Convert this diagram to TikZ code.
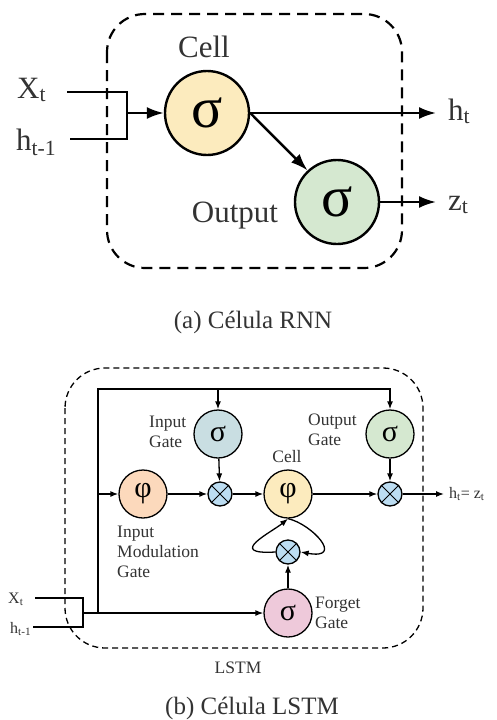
\documentclass[tikz,border=0pt]{standalone}
\usepackage{fontspec}
\setmainfont{Liberation Serif}
\usepackage{xcolor}
\usetikzlibrary{arrows.meta}
\definecolor{cellyellow}{HTML}{FCEBBE}
\definecolor{outgreen}{HTML}{D5E8D0}
\definecolor{gateblue}{HTML}{C9DEE2}
\definecolor{modorange}{HTML}{FCD9BC}
\definecolor{forgetpink}{HTML}{EEC9DA}
\definecolor{multblue}{HTML}{BCDDF2}
\definecolor{txtgray}{HTML}{333333}

\begin{document}
\begin{tikzpicture}
	[x=1pt,y=-1pt,
	 rnnnode/.style={circle,draw,line width=2.4pt,minimum size=84pt,inner sep=0pt,
	 	font=\fontsize{58}{60}\selectfont},
	 rnnlabel/.style={text=txtgray,inner sep=0pt,font=\fontsize{31}{36}\selectfont},
	 rnnline/.style={line width=2.4pt},
	 rnnarrow/.style={-{Latex[length=17pt,width=12pt]}},
	 rnnbox/.style={line width=2.2pt,dash pattern=on 11pt off 7pt,rounded corners=38pt},
	 gate/.style={circle,draw,line width=1.3pt,minimum size=48pt,inner sep=0pt,
	 	font=\fontsize{30}{32}\selectfont},
	 mult/.style={circle,draw,line width=1.3pt,minimum size=24pt,inner sep=0pt,fill=multblue},
	 small/.style={text=txtgray,inner sep=0pt,font=\fontsize{17.5}{20}\selectfont},
	 tiny/.style={text=txtgray,inner sep=0pt,font=\fontsize{16}{18}\selectfont},
	 lstmline/.style={line width=1.3pt},
	 lstmarrow/.style={-{Latex[length=8pt,width=6pt]}},
	 lstmbox/.style={line width=1.3pt,dash pattern=on 6pt off 4pt,rounded corners=40pt},
	 caption/.style={text=txtgray,inner sep=0pt,font=\fontsize{25}{30}\selectfont}]
	\useasboundingbox (0,0) rectangle (497,720);
	
	% RNN cell
	\draw[rnnbox] (107,14) rectangle (402,268);
	\node[rnnnode,fill=cellyellow] (cell) at (207,113) {σ};
	\node[rnnnode,fill=outgreen] (out) at (337,202) {σ};
	\node[rnnlabel,anchor=base] (celltxt) at (204,57) {Cell};
	\node[rnnlabel,anchor=base] (outtxt) at (235,222) {Output};
	\node[rnnlabel,anchor=base west] (xt) at (17,98) {X\textsubscript{t}};
	\node[rnnlabel,anchor=base west] (htm) at (16,150) {h\textsubscript{t-1}};
	\node[rnnlabel,anchor=base west] (ht) at (448,120) {h\textsubscript{t}};
	\node[rnnlabel,anchor=base west] (zt) at (448,210) {z\textsubscript{t}};
	\coordinate (xend) at (67,92);
	\coordinate (hend) at (70,139);
	\coordinate (jt) at (127,92);
	\coordinate (jb) at (127,139);
	\coordinate (jm) at (127,113);
	\coordinate (htend) at (436,113);
	\coordinate (ztend) at (436,202);
	\draw[rnnline] (xend) -- (jt) -- (jb) -- (hend);
	\draw[rnnline,rnnarrow] (jm) -- (cell);
	\draw[rnnline,rnnarrow] (cell) -- (htend);
	\draw[rnnline,rnnarrow] (cell.east) -- (out.133);
	\draw[rnnline,rnnarrow] (out) -- (ztend);
	\node[caption] (capa) at (253,322) {(a) Célula RNN};
	
	% LSTM cell
	\draw[lstmbox] (65,368) rectangle (423,648);
	\node[gate,fill=gateblue] (ig) at (218,434) {σ};
	\node[gate,fill=outgreen] (og) at (390,434) {σ};
	\node[gate,fill=modorange] (im) at (143,494) {φ};
	\node[gate,fill=cellyellow] (cl) at (288,494) {φ};
	\node[gate,fill=forgetpink] (fg) at (288,613) {σ};
	\node[mult] (m1) at (220,494) {};
	\node[mult] (m2) at (390,494) {};
	\node[mult] (mf) at (288,552) {};
	\foreach \m in {m1,m2,mf}
		\draw[line width=1pt] (\m.north west) -- (\m.south east) (\m.north east) -- (\m.south west);
	\node[small,align=left,anchor=west] (igtxt) at (149,432) {Input\\Gate};
	\node[small,align=left,anchor=west] (ogtxt) at (308,430) {Output\\Gate};
	\node[small] (cltxt) at (287,457) {Cell};
	\node[small,align=left,anchor=west] (imtxt) at (117,552) {Input\\Modulation\\Gate};
	\node[small,align=left,anchor=west] (fgtxt) at (315,613) {Forget\\Gate};
	\node[small] (lstmtxt) at (238,668) {LSTM};
	\node[tiny,anchor=base west] (xt2) at (8,603) {X\textsubscript{t}};
	\node[tiny,anchor=base west] (ht2) at (10,633) {h\textsubscript{t-1}};
	\node[tiny,anchor=base west] (hz) at (449,498) {h\textsubscript{t}= z\textsubscript{t}};
	\coordinate (tl) at (98,389);
	\coordinate (tm) at (218,389);
	\coordinate (tr) at (390,389);
	\coordinate (ml) at (98,494);
	\coordinate (bl) at (98,613);
	\coordinate (jx) at (83,598);
	\coordinate (jh) at (83,627);
	\coordinate (jbr) at (83,613);
	\coordinate (xs) at (35,598);
	\coordinate (hs) at (33,627);
	\coordinate (oend) at (444,494);
	\draw[lstmline] (xs) -- (jx) -- (jh) -- (hs);
	\draw[lstmline,lstmarrow] (jbr) -- (fg);
	\draw[lstmline,lstmarrow] (bl) -- (tl) -- (tr) -- (og);
	\draw[lstmline,lstmarrow] (tm) -- (ig);
	\draw[lstmline,lstmarrow] (ml) -- (im);
	\draw[lstmline,lstmarrow] (im) -- (m1);
	\draw[lstmline,lstmarrow] (ig) -- (m1);
	\draw[lstmline,lstmarrow] (m1) -- (cl);
	\draw[lstmline,lstmarrow] (cl) -- (m2);
	\draw[lstmline,lstmarrow] (og) -- (m2);
	\draw[lstmline,lstmarrow] (m2) -- (oend);
	\draw[lstmline,lstmarrow] (fg) -- (mf);
	\draw[lstmline,lstmarrow] (mf.west) .. controls (225,555) and (272,532) .. (cl.south);
	\draw[lstmline,lstmarrow] (cl.south) .. controls (312,524) and (345,560) .. (mf.east);
	\node[caption] (capb) at (252,708) {(b) Célula LSTM};
\end{tikzpicture}
\end{document}
